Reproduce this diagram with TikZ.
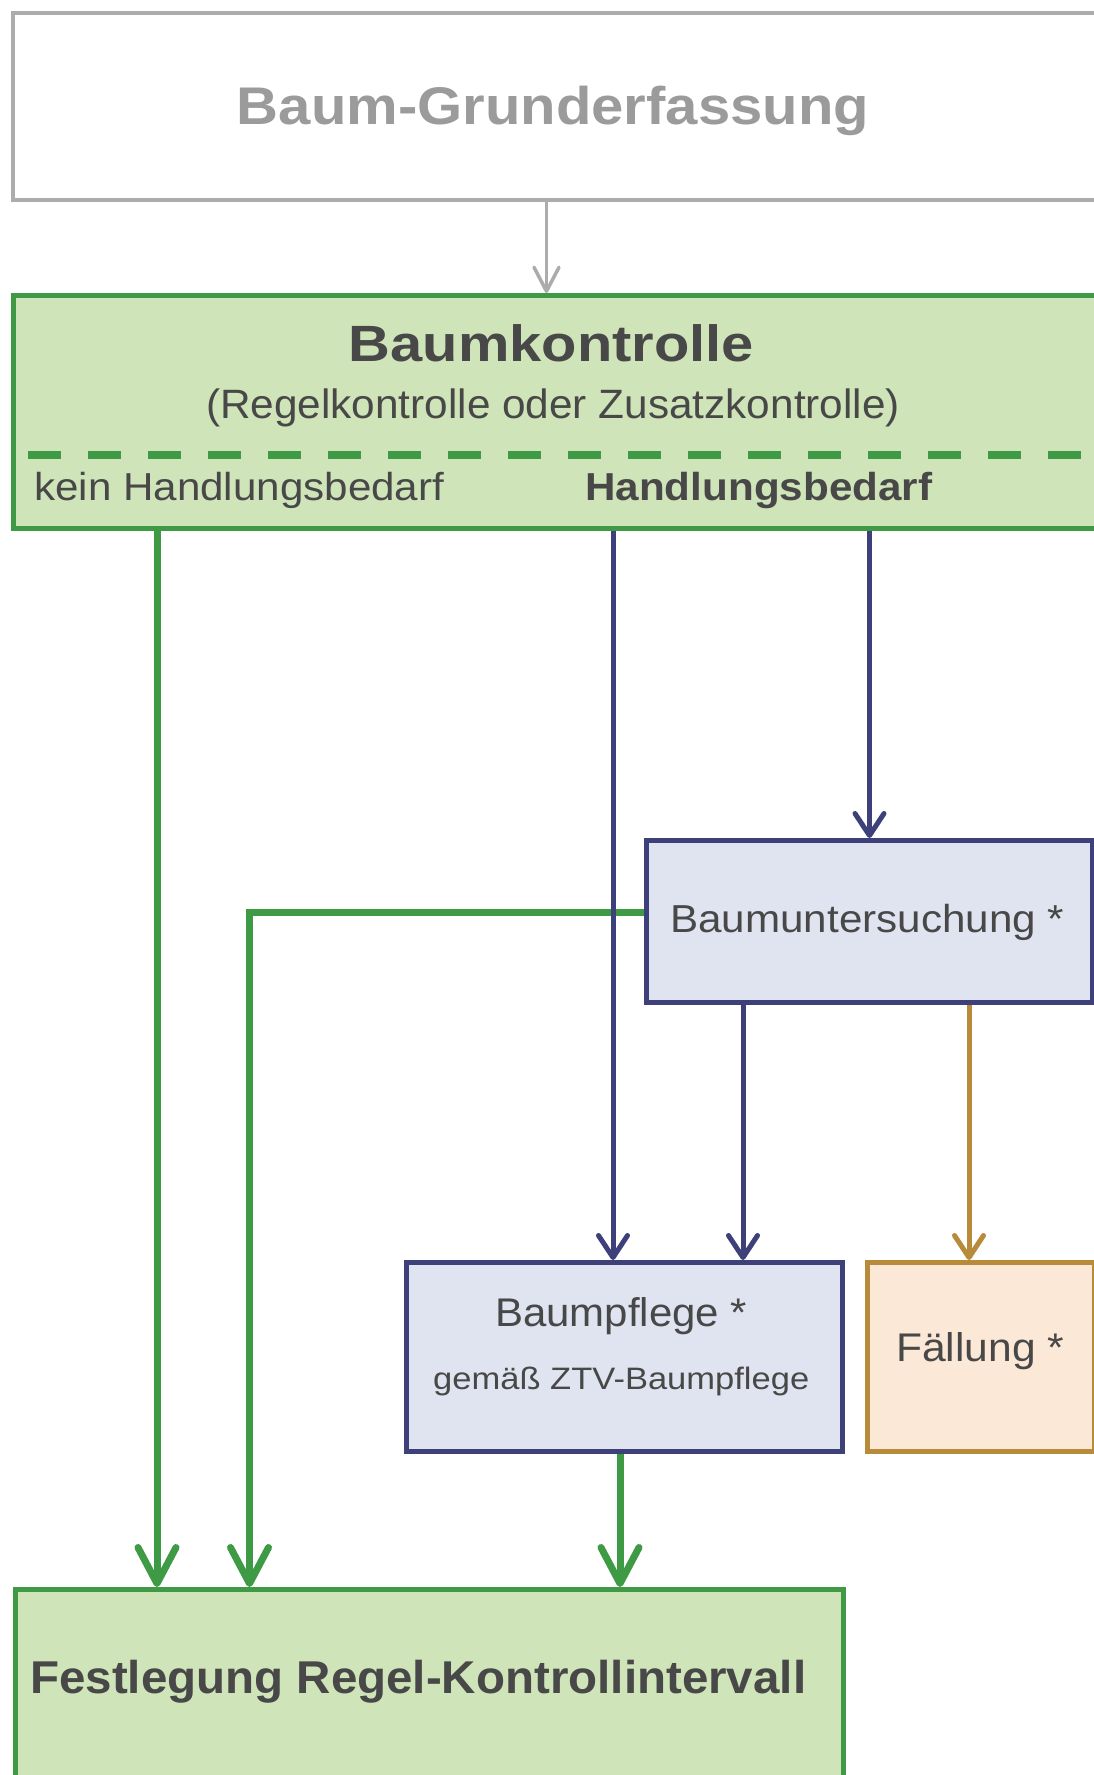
\documentclass[tikz,border=0pt]{standalone}
\usepackage{fontspec}
\setmainfont{Liberation Sans}
\usetikzlibrary{arrows.meta}
\definecolor{greyline}{RGB}{172,172,172}
\definecolor{greytext}{RGB}{155,155,155}
\definecolor{grn}{RGB}{62,154,68}
\definecolor{grnfill}{RGB}{207,228,184}
\definecolor{navy}{RGB}{62,64,122}
\definecolor{lavfill}{RGB}{224,228,240}
\definecolor{brn}{RGB}{184,139,58}
\definecolor{peach}{RGB}{252,232,215}
\definecolor{dtext}{RGB}{72,72,72}
\newcommand{\fitw}[2]{\resizebox{#1pt}{\height}{#2}}
\tikzset{
  box/.style={rectangle, inner sep=0pt, anchor=north west},
  txt/.style={inner sep=0pt, text=dtext},
  garrow/.style={draw=grn, line width=7pt, -{Straight Barb[length=36pt,width=38pt,line cap=round,line join=round]}},
  gline/.style={draw=grn, line width=7pt},
  narrow/.style={draw=navy, line width=5pt, -{Straight Barb[length=22pt,width=29pt,line cap=round,line join=round]}},
  barrow/.style={draw=brn, line width=5pt, -{Straight Barb[length=22pt,width=29pt,line cap=round,line join=round]}},
  grarrow/.style={draw=greyline, line width=3.5pt, -{Straight Barb[length=24pt,width=25pt,line cap=round,line join=round]}},
}
\begin{document}
\begin{tikzpicture}[x=1pt,y=-1pt]
\useasboundingbox (0,0) rectangle (1094,1775);
\clip (0,0) rectangle (1094,1775);
\fill[white] (0,0) rectangle (1094,1775);
% boxes
\node[box, draw=greyline, line width=4pt, fill=white, minimum width=1110pt, minimum height=187pt] (top) at (11,11) {};
\node[box, draw=grn, line width=5pt, fill=grnfill, minimum width=1110pt, minimum height=233pt] (ctrl) at (11,293) {};
\node[box, draw=navy, line width=5pt, fill=lavfill, minimum width=446pt, minimum height=162pt] (unters) at (644,838) {};
\node[box, draw=navy, line width=5pt, fill=lavfill, minimum width=436pt, minimum height=189pt] (pflege) at (404,1260) {};
\node[box, draw=brn, line width=5pt, fill=peach, minimum width=227pt, minimum height=189pt] (faell) at (865,1260) {};
\node[box, draw=grn, line width=5pt, fill=grnfill, minimum width=828pt, minimum height=260pt] (fest) at (13,1587) {};
% dashed separator
\draw[grn, line width=8pt, dash pattern=on 33pt off 27pt] (28,455) -- (1100,455);
% texts
\node[txt, anchor=base, text=greytext, font=\fontsize{53}{60}\selectfont\bfseries] (t1) at (553,124) {\fitw{632}{Baum-Grunderfassung}};
\node[txt, anchor=base, font=\fontsize{51}{58}\selectfont\bfseries] (t2) at (551.5,361) {\fitw{405}{Baumkontrolle}};
\node[txt, anchor=base, font=\fontsize{41}{48}\selectfont] (t3) at (553,418) {\fitw{694}{(Regelkontrolle oder Zusatzkontrolle)}};
\node[txt, anchor=base west, font=\fontsize{39}{46}\selectfont] (t4) at (34,500) {\fitw{410}{kein Handlungsbedarf}};
\node[txt, anchor=base west, font=\fontsize{39}{46}\selectfont\bfseries] (t5) at (585,500) {\fitw{347}{Handlungsbedarf}};
\node[txt, anchor=base west, font=\fontsize{39}{46}\selectfont] (t6) at (670,932) {\fitw{394}{Baumuntersuchung *}};
\node[txt, anchor=base west, font=\fontsize{40}{46}\selectfont] (t7) at (495,1326.5) {\fitw{252}{Baumpflege *}};
\node[txt, anchor=base west, font=\fontsize{31}{36}\selectfont] (t8) at (433,1389) {\fitw{376}{gemäß ZTV-Baumpflege}};
\node[txt, anchor=base west, font=\fontsize{40}{46}\selectfont] (t9) at (896,1361) {\fitw{168}{Fällung *}};
\node[txt, anchor=base west, font=\fontsize{46}{52}\selectfont\bfseries] (t10) at (30,1693) {\fitw{776}{Festlegung Regel-Kontrollintervall}};
% x positions of connectors
\coordinate (xa) at (546.5,0);
\coordinate (xg1) at (157,0);
\coordinate (xg2) at (249.5,0);
\coordinate (xn1) at (613,0);
\coordinate (xn2) at (743,0);
\coordinate (xb) at (969,0);
\coordinate (xg3) at (620,0);
% connectors
\draw[grarrow] (top.south -| xa) -- (ctrl.north -| xa);
\draw[garrow] (ctrl.south -| xg1) -- (fest.north -| xg1);
\draw[garrow] ([yshift=9pt]unters.west) -| (fest.north -| xg2);
\draw[narrow] (ctrl.south -| xn1) -- (pflege.north -| xn1);
\draw[narrow] (ctrl.south -| unters.north) -- (unters.north);
\draw[narrow] (unters.south -| xn2) -- (pflege.north -| xn2);
\draw[barrow] (unters.south -| xb) -- (faell.north -| xb);
\draw[garrow] (pflege.south -| xg3) -- (fest.north -| xg3);
\end{tikzpicture}
\end{document}
